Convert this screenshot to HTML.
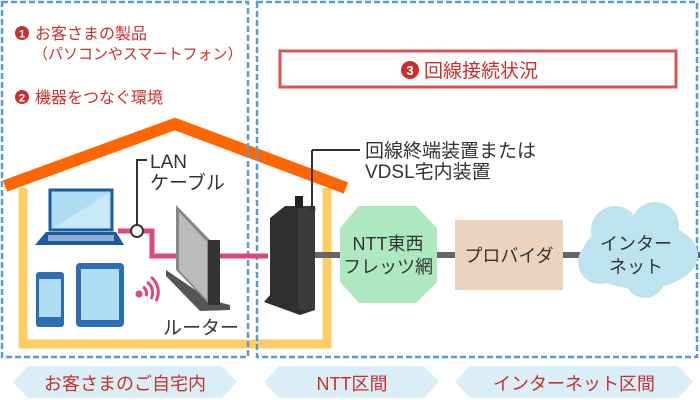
<!DOCTYPE html>
<html><head><meta charset="utf-8"><style>
html,body{margin:0;padding:0;background:#fff}
svg{display:block}
text{font-family:"Liberation Sans","Noto Sans CJK JP",sans-serif}
</style></head><body>
<svg width="700" height="400" viewBox="0 0 700 400" xmlns="http://www.w3.org/2000/svg">
<path d="M23 188 V344 H327 V188" fill="none" stroke="#ffcc66" stroke-width="9"/>
<polyline points="5,186 175,124 346,188" fill="none" stroke="#ff6600" stroke-width="12" stroke-linejoin="miter"/>
<rect x="2" y="2" width="246" height="355" fill="none" stroke="#5b9bd5" stroke-width="2.5" stroke-dasharray="6,3"/>
<rect x="257" y="2" width="440" height="355" fill="none" stroke="#5b9bd5" stroke-width="2.5" stroke-dasharray="6,3"/>
<circle cx="22" cy="33" r="7" fill="#c9302c"/><text x="22" y="37.5" font-size="11" font-weight="bold" fill="#fff" text-anchor="middle">1</text>
<text x="35" y="39" font-size="16" fill="#c9302c">お客さまの製品</text>
<text x="33" y="59" font-size="15" fill="#c9302c">（パソコンやスマートフォン）</text>
<circle cx="22" cy="97" r="7" fill="#c9302c"/><text x="22" y="101.5" font-size="11" font-weight="bold" fill="#fff" text-anchor="middle">2</text>
<text x="35" y="103" font-size="16" fill="#c9302c">機器をつなぐ環境</text>
<rect x="280" y="51" width="396" height="36" fill="#fff" stroke="#d9534f" stroke-width="3"/>
<circle cx="410" cy="70" r="9" fill="#c9302c"/><text x="410" y="75" font-size="13" font-weight="bold" fill="#fff" text-anchor="middle">3</text>
<text x="424" y="77" font-size="19" fill="#c9302c">回線接続状況</text>
<text x="150" y="168" font-size="19" fill="#333">LAN</text>
<text x="150" y="189" font-size="19" fill="#333">ケーブル</text>
<polyline points="147,160 137,160 137,228" fill="none" stroke="#333" stroke-width="2"/>
<polyline points="118,231 152,231 152,256 268,256" fill="none" stroke="#e0457b" stroke-width="5"/>
<circle cx="137" cy="231" r="6" fill="#fff" stroke="#333" stroke-width="2"/>
<rect x="50" y="190" width="62" height="40" fill="#aedcf0" stroke="#1e5aa0" stroke-width="3"/>
<polygon points="53,228 109,193 109,228" fill="#c9e9f7"/>
<polygon points="46,232 116,232 124,245 35,245" fill="#1e5aa0"/>
<rect x="48" y="235" width="66" height="6" fill="#fff" opacity="0.5"/>
<rect x="36" y="272" width="28" height="55" rx="3" fill="#2e6db4"/>
<rect x="39" y="279" width="22" height="38" fill="#aedcf0"/>
<rect x="76" y="263" width="48" height="64" rx="4" fill="#2e6db4"/>
<rect x="81" y="269" width="38" height="51" fill="#aedcf0"/>
<circle cx="139" cy="294" r="3.5" fill="#e0457b"/>
<path d="M143 287 a7 7 0 0 1 3 9 M147 282 a13 13 0 0 1 4 17 M151 277 a19 19 0 0 1 5 24" fill="none" stroke="#e0457b" stroke-width="3"/>
<polygon points="166,270 210,300 230,305 230,310 200,311 166,276" fill="#555"/>
<polygon points="176,205 210,240 210,305 176,270" fill="#888"/>
<polygon points="179,212 207,242 207,300 179,270" fill="#bbb"/>
<rect x="208" y="240" width="12" height="65" fill="#333"/>
<text x="163" y="334" font-size="19" fill="#333">ルーター</text>
<polygon points="270,218 285,206 315,206 315,310 300,315 264,302 270,295" fill="#2f2f2f"/>
<rect x="298" y="206" width="17" height="104" fill="#3b3b3b"/>
<rect x="295" y="196" width="8" height="12" fill="#222"/>
<line x1="312" y1="150" x2="312" y2="208" stroke="#333" stroke-width="2"/>
<circle cx="312" cy="209" r="3.5" fill="#333"/>
<line x1="312" y1="150" x2="360" y2="150" stroke="#333" stroke-width="2"/>
<text x="365" y="157" font-size="19" fill="#333">回線終端装置または</text>
<text x="365" y="178" font-size="19" fill="#333">VDSL宅内装置</text>
<line x1="315" y1="255" x2="700" y2="255" stroke="#666" stroke-width="6"/>
<polygon points="359,206 416,206 437,228 437,282 416,303 359,303 340,282 340,228" fill="#aee8be"/>
<text x="388" y="250" font-size="18" fill="#333" text-anchor="middle">NTT東西</text>
<text x="388" y="273" font-size="18" fill="#333" text-anchor="middle">フレッツ網</text>
<rect x="455" y="220" width="108" height="70" fill="#ecd3bf"/>
<text x="509" y="262" font-size="18" fill="#333" text-anchor="middle">プロバイダ</text>
<g fill="#bde3ef">
<ellipse cx="640" cy="255" rx="58" ry="34"/>
<circle cx="615" cy="230" r="24"/><circle cx="655" cy="226" r="24"/>
<circle cx="600" cy="262" r="22"/><circle cx="645" cy="278" r="20"/><circle cx="680" cy="255" r="18"/>
</g>
<text x="636" y="250" font-size="18" fill="#333" text-anchor="middle">インター</text>
<text x="636" y="273" font-size="18" fill="#333" text-anchor="middle">ネット</text>
<polygon points="13,382 28,366 222,366 237,382 222,398 28,398" fill="#d9eef6"/>
<text x="125" y="390" font-size="18" fill="#c9302c" text-anchor="middle">お客さまのご自宅内</text>
<polygon points="264,382 279,366 424,366 439,382 424,398 279,398" fill="#d9eef6"/>
<text x="352" y="390" font-size="18" fill="#c9302c" text-anchor="middle">NTT区間</text>
<polygon points="455,382 470,366 678,366 693,382 678,398 470,398" fill="#d9eef6"/>
<text x="574" y="390" font-size="18" fill="#c9302c" text-anchor="middle">インターネット区間</text>
</svg>
</body></html>
